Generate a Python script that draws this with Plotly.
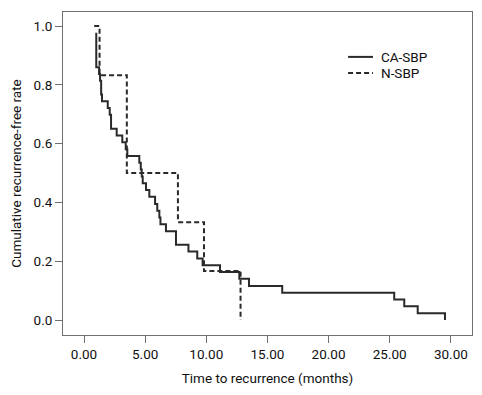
import plotly.graph_objects as go

# CA-SBP Kaplan-Meier steps (months, cumulative recurrence-free rate)
ca_time = [1.0, 1.0, 1.23, 1.31, 1.40, 1.47, 1.94, 2.10, 2.21, 2.67, 3.13, 3.41, 3.54,
           4.52, 4.64, 4.72, 4.80, 5.07, 5.34, 5.81, 5.99, 6.16, 6.25, 6.70, 7.52,
           8.54, 9.26, 9.70, 11.12, 12.70, 13.49, 16.21, 25.37, 26.19, 27.29, 29.52, 29.52]
ca_rate = [0.977, 0.860, 0.837, 0.814, 0.767, 0.744, 0.721, 0.698, 0.651, 0.628, 0.605, 0.581, 0.558,
           0.535, 0.512, 0.488, 0.465, 0.442, 0.419, 0.395, 0.372, 0.349, 0.326, 0.302, 0.256,
           0.233, 0.209, 0.186, 0.163, 0.140, 0.116, 0.093, 0.070, 0.047, 0.023, 0.023, 0.0]

# N-SBP Kaplan-Meier steps
n_time = [0.83, 1.27, 3.50, 7.68, 9.81, 12.80, 12.80]
n_rate = [1.0, 0.833, 0.500, 0.333, 0.167, 0.167, 0.0]

series_names = ["CA-SBP", "N-SBP"]

x_ticks = [0, 5, 10, 15, 20, 25, 30]
x_labels = ["0.00", "5.00", "10.00", "15.00", "20.00", "25.00", "30.00"]
y_ticks = [0.0, 0.2, 0.4, 0.6, 0.8, 1.0]
y_labels = ["0.0", "0.2", "0.4", "0.6", "0.8", "1.0"]

FONT = "Roboto, Liberation Sans, sans-serif"
FS = 13.5
LINE_COLOR = "#2a2a2a"
DASHES = [None, "5px,3px"]

fig = go.Figure()
fig.add_trace(go.Scatter(x=ca_time, y=ca_rate, mode="lines", line_shape="hv", name=series_names[0],
                         showlegend=False, line=dict(color=LINE_COLOR, width=2)))
fig.add_trace(go.Scatter(x=n_time, y=n_rate, mode="lines", line_shape="hv", name=series_names[1],
                         showlegend=False, line=dict(color=LINE_COLOR, width=2, dash=DASHES[1])))

# hand-made legend (compact spacing like the reference)
legend_y = [0.861, 0.811]
for name, dash, ly in zip(series_names, DASHES, legend_y):
    line = dict(color=LINE_COLOR, width=2)
    if dash:
        line["dash"] = dash
    fig.add_shape(type="line", xref="paper", yref="paper", x0=0.697, x1=0.758, y0=ly, y1=ly,
                  line=line)
    fig.add_annotation(xref="paper", yref="paper", x=0.772, y=ly, text=name, showarrow=False,
                       xanchor="left", yanchor="middle",
                       font=dict(family=FONT, size=FS, color="#111"))

axis_common = dict(showline=True, mirror=True, linecolor="#707070", linewidth=1,
                   ticks="outside", ticklen=7, tickcolor="#707070", tickwidth=1,
                   showgrid=False, zeroline=False, automargin=False,
                   tickfont=dict(family=FONT, size=FS, color="#111"))

fig.update_xaxes(range=[-1.72, 31.73], tickvals=x_ticks, ticktext=x_labels,
                 title=dict(text="Time to recurrence (months)",
                            font=dict(family=FONT, size=FS, color="#111"), standoff=12),
                 **axis_common)
fig.update_yaxes(range=[-0.051, 1.048], tickvals=y_ticks, ticktext=y_labels,
                 title=dict(text="Cumulative recurrence-free rate",
                            font=dict(family=FONT, size=FS, color="#111"), standoff=14),
                 **axis_common)

# the page body has an 8px default margin, so the figure is 8px smaller
fig.update_layout(width=474, height=387,
                  margin=dict(l=55, r=10, t=4, b=60),
                  paper_bgcolor="white", plot_bgcolor="white",
                  showlegend=False)

fig.write_html("out.html")
